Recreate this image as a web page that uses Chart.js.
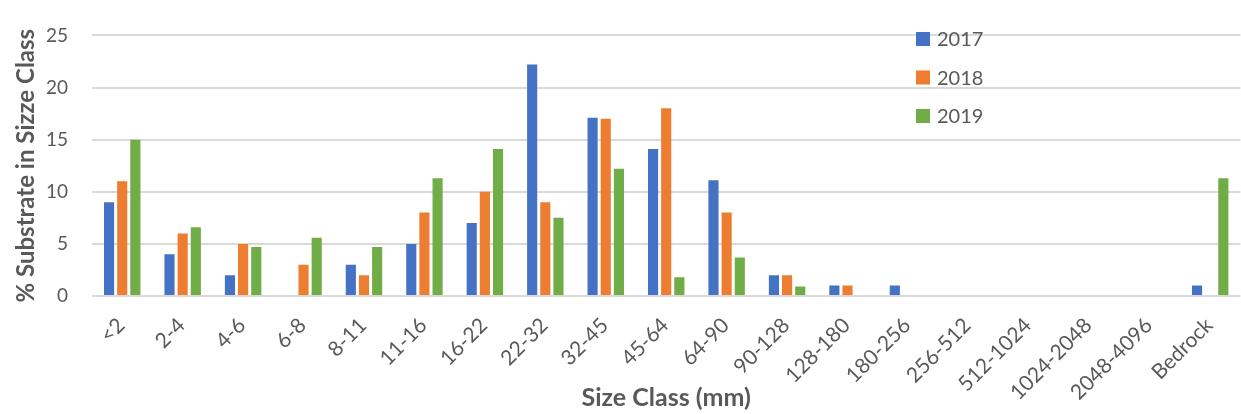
<!DOCTYPE html>
<html>
<head>
<meta charset="utf-8">
<script src="https://cdn.jsdelivr.net/npm/chart.js@4/dist/chart.umd.min.js"></script>
<style>
  html, body { margin: 0; padding: 0; background: #ffffff; }
  #wrap { width: 1241px; height: 414px; overflow: hidden; position: relative; }
  canvas { display: block; }
</style>
</head>
<body>
<div id="wrap"><canvas id="c" width="1245" height="414"></canvas></div>
<script>
// Substrate size classes (mm)
const categories = ['<2', '2-4', '4-6', '6-8', '8-11', '11-16', '16-22', '22-32', '32-45', '45-64',
  '64-90', '90-128', '128-180', '180-256', '256-512', '512-1024', '1024-2048', '2048-4096', 'Bedrock'];

// Percent of substrate in each size class, by survey year
const years = ['2017', '2018', '2019'];
const values2017 = [9, 4, 2, 0, 3, 5, 7, 22.2, 17.1, 14.1, 11.1, 2, 1, 1, 0, 0, 0, 0, 1];
const values2018 = [11, 6, 5, 3, 2, 8, 10, 9, 17, 18, 8, 2, 1, 0, 0, 0, 0, 0, 0];
const values2019 = [15, 6.6, 4.7, 5.6, 4.7, 11.3, 14.1, 7.5, 12.2, 1.8, 3.7, 0.9, 0, 0, 0, 0, 0, 0, 11.3];

// Y axis ticks
const yTicks = [0, 5, 10, 15, 20, 25];

const colors = ['#4472C4', '#ED7D31', '#70AD47'];
const textColor = '#595959';
const fontFamily = 'Lato, "Open Sans", "DejaVu Sans", sans-serif';

// Legend drawn inside the plot area, stacked vertically
const insetLegend = {
  id: 'insetLegend',
  afterDraw(chart) {
    const { ctx, chartArea } = chart;
    const x0 = chartArea.left + 824;
    const y0 = 39;
    const rowGap = 38.5;
    const box = 14;
    ctx.save();
    ctx.font = '20px ' + fontFamily;
    ctx.textBaseline = 'middle';
    ctx.textAlign = 'left';
    chart.data.datasets.forEach((ds, i) => {
      const cy = y0 + i * rowGap;
      ctx.fillStyle = ds.backgroundColor;
      ctx.fillRect(x0, cy - box / 2, box, box);
      ctx.fillStyle = textColor;
      ctx.fillText(ds.label, x0 + box + 7, cy + 1);
    });
    ctx.restore();
  }
};

const seriesValues = [values2017, values2018, values2019];

new Chart(document.getElementById('c'), {
  type: 'bar',
  data: {
    labels: categories,
    datasets: years.map((y, i) => ({
      label: y,
      data: seriesValues[i],
      backgroundColor: colors[i],
      borderWidth: 0,
      categoryPercentage: 0.653,
      barPercentage: 0.77
    }))
  },
  options: {
    responsive: false,
    animation: false,
    devicePixelRatio: 1,
    layout: { padding: { top: 15, right: 0, bottom: 0, left: 0 } },
    plugins: {
      legend: { display: false },
      tooltip: { enabled: false }
    },
    scales: {
      x: {
        grid: { display: false, drawTicks: false },
        border: { display: false },
        ticks: {
          autoSkip: false,
          minRotation: 45,
          maxRotation: 45,
          padding: 17,
          labelOffset: -1,
          color: textColor,
          font: { family: fontFamily, size: 21 }
        },
        title: {
          display: true,
          text: 'Size Class (mm)',
          color: textColor,
          font: { family: fontFamily, size: 25, weight: 'bold' },
          padding: { top: 0, bottom: 1 }
        },
        afterFit(scale) { scale.height = 118; }
      },
      y: {
        min: 0,
        max: 25,
        afterBuildTicks(scale) { scale.ticks = yTicks.map(v => ({ value: v })); },
        grid: { color: '#D9D9D9', lineWidth: 2, drawTicks: false },
        border: { display: false },
        ticks: {
          padding: 24,
          color: textColor,
          font: { family: fontFamily, size: 19 }
        },
        title: {
          display: true,
          text: '% Substrate in Sizze Class',
          color: textColor,
          font: { family: fontFamily, size: 24, weight: 'bold' },
          padding: { top: 12, bottom: 0 }
        },
        afterFit(scale) { scale.width = 92; }
      }
    }
  },
  plugins: [insetLegend]
});
</script>
</body>
</html>
